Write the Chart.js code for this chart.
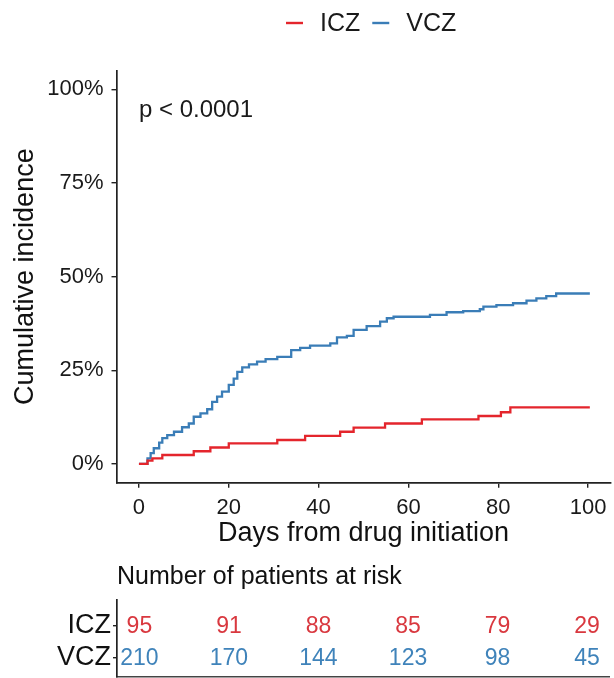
<!DOCTYPE html>
<html><head><meta charset="utf-8">
<script src="https://cdn.jsdelivr.net/npm/chart.js@4.4.0/dist/chart.umd.min.js"></script>
<style>
html,body{margin:0;padding:0;background:#fff;}
#wrap{position:relative;width:614px;height:678px;overflow:hidden;background:#fff;}
#c1{position:absolute;left:0;top:0;}
#c2{position:absolute;left:0;top:560px;}
</style></head><body>
<div id="wrap"><canvas id="c1" width="614" height="551"></canvas><canvas id="c2" width="614" height="118"></canvas></div>
<script>
// ---------- data ----------
const groups = ['ICZ', 'VCZ'];
const iczDays = [0, 1.9, 3.0, 5.2, 12.2, 15.9, 20.0, 30.8, 37.0, 44.8, 47.8, 54.8, 63.0, 75.6, 80.6, 82.7, 100.4];
const iczPct  = [0, 0.9, 1.5, 2.4, 3.4, 4.4, 5.5, 6.4, 7.5, 8.6, 9.7, 10.8, 11.9, 12.8, 13.8, 15.1, 15.1];
const vczDays = [0, 1.9, 2.6, 3.3, 4.5, 5.2, 6.3, 7.8, 9.6, 11.1, 12.2, 13.7, 15.2, 16.3, 17.4, 18.5, 20.0, 21.1, 21.9, 23.0, 24.5, 26.3, 28.2, 30.8, 33.9, 35.9, 38.1, 42.6, 44.1, 46.3, 47.8, 50.7, 53.7, 55.2, 56.7, 64.8, 68.5, 72.2, 75.9, 76.7, 79.6, 83.3, 86.3, 88.5, 90.7, 92.9, 100.4];
const vczPct  = [0, 1.5, 2.9, 4.2, 5.7, 6.9, 7.7, 8.6, 9.8, 10.8, 12.6, 13.5, 14.6, 16.6, 18.0, 19.3, 21.1, 22.8, 24.6, 25.8, 26.6, 27.3, 28.0, 28.6, 30.4, 31.0, 31.6, 32.2, 33.8, 34.2, 35.8, 36.8, 38.0, 38.9, 39.3, 39.8, 40.5, 40.8, 41.3, 42.0, 42.4, 42.9, 43.6, 44.2, 44.8, 45.5, 45.5];
const xTicks = [0, 20, 40, 60, 80, 100];
const yTicks = [0, 25, 50, 75, 100];
const yTickLabels = ['0%', '25%', '50%', '75%', '100%'];
const riskTimes = [0, 20, 40, 60, 80, 100];
const iczRisk = [95, 91, 88, 85, 79, 29];
const vczRisk = [210, 170, 144, 123, 98, 45];
const pLabel = 'p < 0.0001';

// ---------- styles ----------
const RED = '#E4252C';
const BLUE = '#3A7DB7';
const FONT = "'Liberation Sans', Arial, Helvetica, sans-serif";
Chart.defaults.font.family = FONT;
Chart.defaults.color = '#1a1a1a';

const legendPlugin = {
  id: 'kmLegend',
  afterDraw(chart) {
    const ctx = chart.ctx;
    ctx.save();
    ctx.font = '25px ' + FONT;
    ctx.textBaseline = 'middle';
    let x = 286;
    const y = 23;
    chart.data.datasets.forEach(ds => {
      ctx.strokeStyle = ds.borderColor;
      ctx.lineWidth = 2.4;
      ctx.beginPath();
      ctx.moveTo(x, y); ctx.lineTo(x + 17, y); ctx.stroke();
      x += 17 + 17;
      ctx.fillStyle = '#1a1a1a';
      ctx.fillText(ds.label, x, y + 1);
      x += ctx.measureText(ds.label).width + 12;
    });
    ctx.restore();
  }
};

const pPlugin = {
  id: 'pval',
  afterDraw(chart) {
    const ctx = chart.ctx, xs = chart.scales.x, ys = chart.scales.y;
    ctx.save();
    ctx.font = '24px ' + FONT;
    ctx.fillStyle = '#1a1a1a';
    ctx.textBaseline = 'alphabetic';
    ctx.fillText(pLabel, xs.getPixelForValue(0), ys.getPixelForValue(92.7));
    ctx.restore();
  }
};

new Chart(document.getElementById('c1'), {
  type: 'line',
  data: {
    datasets: [
      { label: groups[0], data: iczDays.map((d, i) => ({x: d, y: iczPct[i]})), borderColor: RED, borderWidth: 2.3, stepped: 'before', pointRadius: 0, fill: false },
      { label: groups[1], data: vczDays.map((d, i) => ({x: d, y: vczPct[i]})), borderColor: BLUE, borderWidth: 2.3, stepped: 'before', pointRadius: 0, fill: false }
    ]
  },
  options: {
    responsive: false, animation: false, devicePixelRatio: 1,
    layout: { padding: { left: 0, right: 3.5, top: 70.6, bottom: 0 } },
    plugins: { legend: { display: false }, tooltip: { enabled: false } },
    scales: {
      x: {
        type: 'linear', min: -5, max: 105,
        afterBuildTicks: s => { s.ticks = xTicks.map(v => ({value: v})); },
        afterFit: s => { s.height = 68.3; },
        ticks: { font: { size: 22 }, color: '#1a1a1a', padding: 7, maxRotation: 0, autoSkip: false },
        grid: { drawOnChartArea: false, drawTicks: true, tickLength: 5, color: '#222', lineWidth: 1.4 },
        border: { display: true, color: '#222', width: 1.7 },
        title: { display: true, text: 'Days from drug initiation', font: { size: 27 }, color: '#111', padding: { top: 0, bottom: 1 } }
      },
      y: {
        type: 'linear', min: -5, max: 105,
        afterBuildTicks: s => { s.ticks = yTicks.map(v => ({value: v})); },
        afterFit: s => { s.width = 116.5; },
        ticks: { font: { size: 22 }, color: '#1a1a1a', padding: 8, callback: v => yTickLabels[yTicks.indexOf(v)] },
        grid: { drawOnChartArea: false, drawTicks: true, tickLength: 5, color: '#222', lineWidth: 1.4 },
        border: { display: true, color: '#222', width: 1.7 },
        title: { display: true, text: 'Cumulative incidence', font: { size: 27 }, color: '#111', padding: { top: 9, bottom: 0 } }
      }
    }
  },
  plugins: [legendPlugin, pPlugin]
});

const riskPlugin = {
  id: 'riskText',
  afterDatasetsDraw(chart) {
    const ctx = chart.ctx;
    ctx.save();
    ctx.font = '23px ' + FONT;
    ctx.textAlign = 'center';
    ctx.textBaseline = 'middle';
    chart.data.datasets.forEach((ds, i) => {
      const meta = chart.getDatasetMeta(i);
      ctx.fillStyle = ds.textColor;
      meta.data.forEach((pt, j) => ctx.fillText(String(ds.risk[j]), pt.x, pt.y + 1));
    });
    ctx.restore();
  }
};

new Chart(document.getElementById('c2'), {
  type: 'scatter',
  data: {
    datasets: [
      { label: groups[0], data: riskTimes.map(t => ({x: t, y: 1})), risk: iczRisk, textColor: '#D9383F', pointRadius: 0 },
      { label: groups[1], data: riskTimes.map(t => ({x: t, y: 2})), risk: vczRisk, textColor: '#3F83BA', pointRadius: 0 }
    ]
  },
  options: {
    responsive: false, animation: false, devicePixelRatio: 1,
    layout: { padding: { left: 0, right: 4.5, top: 0, bottom: 0 } },
    plugins: {
      legend: { display: false }, tooltip: { enabled: false },
      title: { display: true, text: 'Number of patients at risk', align: 'start', fullSize: false, font: { size: 25, weight: 'normal' }, color: '#111', padding: { top: 2, bottom: 8 } }
    },
    scales: {
      x: {
        type: 'linear', min: -5, max: 105,
        ticks: { display: false }, grid: { display: false },
        border: { display: true, color: '#444', width: 1.4 },
        afterFit: s => { s.height = 1; s.paddingLeft = 0; s.paddingRight = 0; }
      },
      y: {
        type: 'linear', min: 0.2, max: 2.6, reverse: true,
        afterBuildTicks: s => { s.ticks = [{value: 1}, {value: 2}]; },
        afterFit: s => { s.width = 117; s.paddingTop = 0; s.paddingBottom = 0; },
        ticks: { font: { size: 27 }, color: '#111', padding: 2, callback: v => groups[v - 1] },
        grid: { drawOnChartArea: false, drawTicks: true, tickLength: 4, color: '#222', lineWidth: 1.4 },
        border: { display: true, color: '#222', width: 1.7 }
      }
    }
  },
  plugins: [riskPlugin]
});
</script>
</body></html>
